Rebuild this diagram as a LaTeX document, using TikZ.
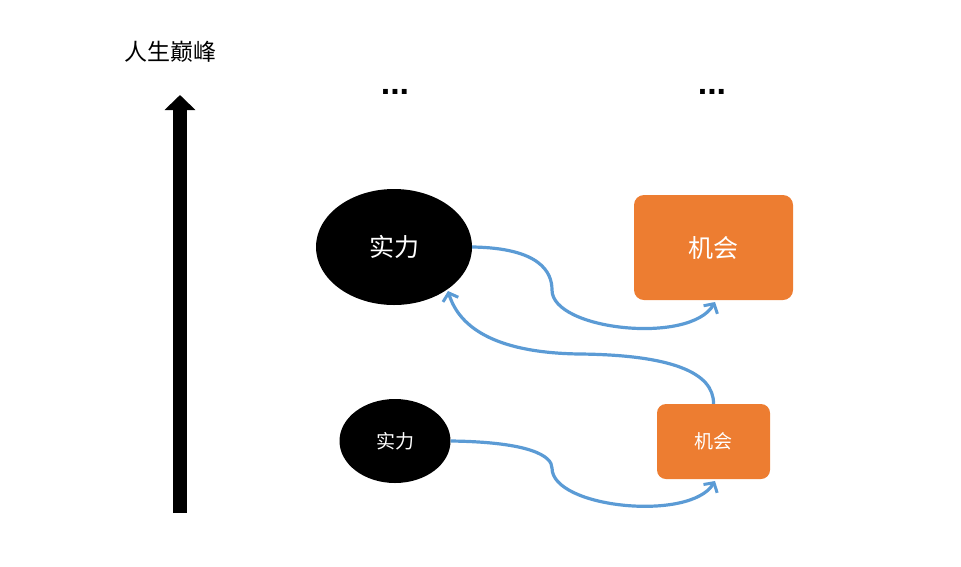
\documentclass[tikz,border=0pt]{standalone}
\usepackage{fontspec}
\setmainfont{Liberation Sans}
\newfontfamily\cjk{Noto Sans CJK SC}
\usetikzlibrary{arrows.meta,shapes.geometric}
\definecolor{myblue}{HTML}{5B9BD5}
\definecolor{myorange}{HTML}{ED7D31}
\tikzset{
  strength/.style={ellipse,fill=black,draw=none,text=white,inner sep=0pt},
  chance/.style={rounded corners=10pt,fill=myorange,draw=none,text=white,inner sep=0pt},
  link/.style={draw=myblue,line width=3.2pt,-{Straight Barb[length=7pt,width=16pt,line width=3pt]}},
  dots/.style={font=\bfseries\fontsize{34}{34}\selectfont,inner sep=0pt}
}
\begin{document}
\begin{tikzpicture}[x=1pt,y=-1pt]
\useasboundingbox (0,0) rectangle (961,566);
% vertical arrow
\coordinate (abot) at (180,513);
\coordinate (atop) at (180,95);
\draw[line width=14pt,-{Triangle[width=30pt,length=15pt]}] (abot) -- (atop);
\node[font=\cjk\fontsize{23}{23}\selectfont,inner sep=0pt] (peak) at (170,52) {人生巅峰};
% dots
\node[dots] (d1) at (395,92) {...};
\node[dots] (d2) at (712,92) {...};
% shapes
\node[strength,minimum width=156pt,minimum height=116pt,font=\cjk\fontsize{25}{25}\selectfont] (s2) at (394,247) {实力};
\node[chance,minimum width=159pt,minimum height=105pt,font=\cjk\fontsize{25}{25}\selectfont] (c2) at (713.5,247.5) {机会};
\node[strength,minimum width=111pt,minimum height=84pt,font=\cjk\fontsize{19}{19}\selectfont] (s1) at (395,441) {实力};
\node[chance,minimum width=113pt,minimum height=75pt,rounded corners=9pt,font=\cjk\fontsize{19}{19}\selectfont] (c1) at (713.5,441.5) {机会};
% connectors
\coordinate (t2) at (715,302);
\coordinate (t1) at (715,481);
\coordinate (e2) at (448,291);
\draw[link] (s2.east) .. controls (540,248) and (552,272) .. (552,290)
  .. controls (552,330) and (690,345) .. (t2);
\draw[link] (c1.north) .. controls (714,372) and (670,355) .. (580,354)
  .. controls (500,353) and (460,330) .. (e2);
\draw[link] (s1.east) .. controls (530,442) and (552,456) .. (552,468)
  .. controls (552,508) and (690,522) .. (t1);
\end{tikzpicture}
\end{document}
